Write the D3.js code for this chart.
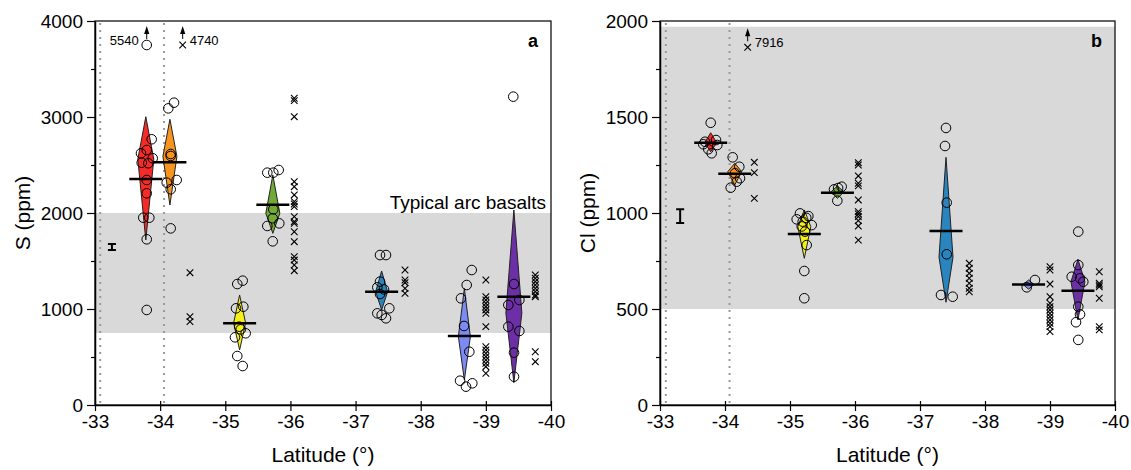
<!DOCTYPE html>
<html>
<head>
<meta charset="utf-8">
<script src="https://cdn.jsdelivr.net/npm/d3@7"></script>
<style>
  body { margin: 0; background: #fff; }
  svg { display: block; font-family: "Liberation Sans", Arial, sans-serif; }
</style>
</head>
<body>
<svg id="chart" width="1131" height="470"></svg>
<script>
// ---------------- DATA ----------------
const groupNames = ["Red", "Orange", "Yellow", "Green", "Blue", "LightBlue", "Purple"];
const groupColors = ["#f62a27", "#f7941f", "#f6f019", "#72aa37", "#2a84bd", "#7b8bf2", "#6c2fa6"];
const groupLat = [-33.78, -34.15, -35.22, -35.73, -37.40, -38.67, -39.43];

const xTicks = [-33, -34, -35, -36, -37, -38, -39, -40];
const sTicks = [0, 1000, 2000, 3000, 4000];
const clTicks = [0, 500, 1000, 1500, 2000];

// Panel a: S (ppm)
const sMean = [2354, 2528, 851, 2087, 1180, 719, 1128];
// kite shape: [top, widest, bottom] in ppm
const sShape = [[3003, 2560, 1719], [2976, 2590, 2083], [1146, 854, 573], [2396, 1997, 1788],
                [1396, 1180, 990], [1215, 711, 260], [2031, 958, 232]];
const sCircles = [
  [-33.870, 2768], [-33.706, 2622], [-33.794, 2656], [-33.886, 2570], [-33.717, 2524], [-33.818, 2518],
  [-33.794, 2344], [-33.794, 2205], [-33.741, 1951], [-33.834, 1951], [-33.794, 1726], [-33.794, 990],
  [-33.794, 3750],
  [-34.125, 3090], [-34.213, 3149], [-34.162, 2615], [-34.162, 2594], [-34.101, 2316], [-34.254, 2344],
  [-34.162, 2247], [-34.162, 1840],
  [-35.184, 1260], [-35.267, 1295], [-35.165, 1007], [-35.277, 1024], [-35.215, 816], [-35.237, 788],
  [-35.149, 705], [-35.313, 747], [-35.184, 510], [-35.267, 406],
  [-35.645, 2420], [-35.737, 2420], [-35.820, 2448], [-35.737, 2038], [-35.728, 1945], [-35.645, 1865],
  [-35.829, 1892], [-35.728, 1705],
  [-37.375, 1562], [-37.467, 1562], [-37.375, 1285], [-37.334, 1226], [-37.436, 1205], [-37.375, 1156],
  [-37.518, 1007], [-37.334, 955], [-37.401, 938], [-37.467, 903],
  [-38.783, 1406], [-38.706, 1250], [-38.618, 1111], [-38.665, 823], [-38.746, 555], [-38.604, 253],
  [-38.695, 191], [-38.792, 226],
  [-39.432, 1260], [-39.345, 1042], [-39.514, 1094], [-39.345, 816], [-39.514, 771], [-39.432, 545],
  [-39.432, 295], [-39.421, 3212]
];
const sCrosses = [
  [-34.346, 3750],
  [-34.458, 1378], [-34.458, 920], [-34.458, 868],
  [-36.059, 3195], [-36.059, 3170], [-36.059, 3003], [-36.059, 2326], [-36.059, 2274], [-36.059, 2188],
  [-36.059, 2118], [-36.059, 2094], [-36.059, 2066], [-36.059, 1962], [-36.059, 1910], [-36.059, 1892],
  [-36.059, 1805], [-36.059, 1701], [-36.059, 1545], [-36.059, 1510], [-36.059, 1458], [-36.059, 1399],
  [-37.759, 1406], [-37.759, 1302], [-37.759, 1274], [-37.759, 1215], [-37.759, 1163],
  [-39.0, 1302], [-39.0, 1128], [-39.0, 1094], [-39.0, 1059], [-39.0, 1024], [-39.0, 990], [-39.0, 955],
  [-39.0, 816], [-39.0, 607], [-39.0, 573], [-39.0, 538], [-39.0, 503], [-39.0, 469], [-39.0, 434],
  [-39.0, 399], [-39.0, 330],
  [-39.759, 1354], [-39.759, 1320], [-39.759, 1285], [-39.759, 1250], [-39.759, 1215], [-39.759, 1181],
  [-39.759, 1146], [-39.759, 1128], [-39.759, 555], [-39.759, 451]
];
// off-scale values: [lat, plotted value, true value, marker]
const sOffscale = [[-33.794, 3750, "5540", "circle"], [-34.346, 3750, "4740", "cross"]];
const sErr = [-33.26, 1646, 31];
const sBand = [750, 2000];
const sBandLabel = "Typical arc basalts";
const sVLines = [-33.08, -34.06];

// Panel b: Cl (ppm)
const clMean = [1366, 1205, 891, 1106, 906, 628, 595];
const clShape = [[1418, 1366, 1319], [1259, 1215, 1146], [1016, 929, 764], [1141, 1110, 1076],
                 [1290, 770, 535], [651, 628, 603], [759, 642, 443]];
const clCircles = [
  [-33.780, 1470], [-33.666, 1358], [-33.743, 1332], [-33.862, 1380], [-33.795, 1311], [-33.882, 1354],
  [-33.692, 1371],
  [-34.118, 1290], [-34.220, 1241], [-34.154, 1207], [-34.088, 1132], [-34.231, 1181], [-34.180, 1163],
  [-35.154, 998], [-35.282, 984], [-35.103, 967], [-35.334, 937], [-35.195, 955], [-35.231, 903],
  [-35.257, 833], [-35.220, 698], [-35.220, 556], [-35.250, 975], [-35.180, 930],
  [-35.677, 1123], [-35.795, 1137], [-35.728, 1064], [-35.740, 1130],
  [-37.400, 1443], [-37.385, 1349], [-37.411, 1054], [-37.411, 785], [-37.323, 573], [-37.503, 564],
  [-38.642, 613], [-38.769, 651],
  [-39.435, 903], [-39.435, 729], [-39.334, 668], [-39.462, 660], [-39.512, 642], [-39.435, 512],
  [-39.462, 472], [-39.400, 431], [-39.435, 339]
];
const clCrosses = [
  [-34.349, 1863],
  [-34.451, 1264], [-34.451, 1210], [-34.451, 1076],
  [-36.051, 1262], [-36.051, 1250], [-36.051, 1193], [-36.051, 1155], [-36.051, 1141], [-36.051, 1068],
  [-36.051, 1007], [-36.051, 995], [-36.051, 981], [-36.051, 960], [-36.051, 932], [-36.051, 859],
  [-37.758, 738], [-37.758, 712], [-37.758, 686], [-37.758, 660], [-37.758, 634], [-37.758, 608], [-37.758, 590],
  [-39.0, 720], [-39.0, 703], [-39.0, 630], [-39.0, 564], [-39.0, 530], [-39.0, 512], [-39.0, 495],
  [-39.0, 477], [-39.0, 460], [-39.0, 443], [-39.0, 425], [-39.0, 408], [-39.0, 382],
  [-39.758, 694], [-39.758, 634], [-39.758, 625], [-39.758, 616], [-39.758, 556], [-39.758, 408], [-39.758, 391]
];
const clOffscale = [[-34.349, 1863, "7916", "cross"]];
const clErr = [-33.31, 984, 36];
const clBand = [500, 1970];
const clVLines = [-33.09, -34.07];

// ---------------- STYLE ----------------
const sKiteHalf = [8, 7, 6, 7, 6, 6, 8];
const clKiteHalf = [6, 7, 6.5, 6.5, 7, 5.5, 7];

const svg = d3.select("#chart");

function panel(opts) {
  const { left, right, top, bottom, yMax, yTicks, yMinorStep, yLabel, letter,
          mean, shape, kiteHalf, circles, crosses, offscale, err, band, bandLabel, vlines } = opts;
  const x = d3.scaleLinear().domain([-33, -40]).range([left, right]);
  const y = d3.scaleLinear().domain([0, yMax]).range([bottom, top]);
  const g = svg.append("g");

  // band
  g.append("rect").attr("x", left).attr("width", right - left)
    .attr("y", y(band[1])).attr("height", y(band[0]) - y(band[1]))
    .attr("fill", "#d9d9d9");

  // dotted vertical lines
  g.selectAll(".vl").data(vlines).join("line")
    .attr("x1", d => x(d)).attr("x2", d => x(d))
    .attr("y1", top + 2).attr("y2", bottom)
    .attr("stroke", "#999").attr("stroke-width", 2).attr("stroke-dasharray", "2,5");

  if (bandLabel) {
    g.append("text").attr("x", right - 5).attr("y", y(band[1]) - 4)
      .attr("text-anchor", "end").attr("font-size", 19).text(bandLabel);
  }

  // error bar
  const ex = x(err[0]);
  g.append("path")
    .attr("d", `M${ex},${y(err[1] + err[2])}V${y(err[1] - err[2])}` +
               `M${ex - 4},${y(err[1] + err[2])}H${ex + 4}M${ex - 4},${y(err[1] - err[2])}H${ex + 4}`)
    .attr("stroke", "#000").attr("stroke-width", 2).attr("fill", "none");

  // kites
  g.selectAll(".kite").data(shape).join("path")
    .attr("d", (d, i) => {
      const cx = x(groupLat[i]), h = kiteHalf[i];
      return `M${cx},${y(d[0])}L${cx + h},${y(d[1])}L${cx},${y(d[2])}L${cx - h},${y(d[1])}Z`;
    })
    .attr("fill", (d, i) => groupColors[i])
    .attr("stroke", "#222").attr("stroke-width", 1).attr("stroke-linejoin", "round");

  // circles
  g.selectAll(".pt").data(circles).join("circle")
    .attr("cx", d => x(d[0])).attr("cy", d => y(d[1])).attr("r", 4.8)
    .attr("fill", "none").attr("stroke", "#000").attr("stroke-width", 1);

  // mean lines
  g.selectAll(".mean").data(mean).join("line")
    .attr("x1", (d, i) => x(groupLat[i]) - 16.5).attr("x2", (d, i) => x(groupLat[i]) + 16.5)
    .attr("y1", d => y(d)).attr("y2", d => y(d))
    .attr("stroke", "#000").attr("stroke-width", 2.5);

  // crosses
  g.selectAll(".cr").data(crosses).join("path")
    .attr("transform", d => `translate(${x(d[0])},${y(d[1])})`)
    .attr("d", "M-3.3,-3.3L3.3,3.3M-3.3,3.3L3.3,-3.3")
    .attr("stroke", "#000").attr("stroke-width", 1.1).attr("fill", "none");

  // off-scale arrows and labels
  offscale.forEach(d => {
    const px = x(d[0]), py = y(d[1]);
    g.append("line").attr("x1", px).attr("x2", px).attr("y1", py - 12).attr("y2", py - 6)
      .attr("stroke", "#000").attr("stroke-width", 1);
    g.append("path").attr("d", `M${px},${py - 19}L${px + 2.6},${py - 11}L${px - 2.6},${py - 11}Z`)
      .attr("fill", "#000");
    const isLeft = d[3] === "circle";
    g.append("text").attr("x", isLeft ? px - 8 : px + 7).attr("y", py)
      .attr("text-anchor", isLeft ? "end" : "start").attr("font-size", 13).text(d[2]);
  });

  // frame
  g.append("rect").attr("x", left).attr("y", top).attr("width", right - left).attr("height", bottom - top)
    .attr("fill", "none").attr("stroke", "#000").attr("stroke-width", 1.2);

  // x axis
  const xa = g.append("g").attr("transform", `translate(0,${bottom})`)
    .call(d3.axisBottom(x).tickValues(xTicks).tickFormat(d3.format("d")).tickSizeOuter(0).tickSizeInner(6));
  xa.select(".domain").attr("stroke-width", 1.5);
  xa.selectAll(".tick line").attr("y1", -4).attr("stroke-width", 1.2);
  xa.selectAll(".tick text").attr("font-size", 19).attr("font-family", "Liberation Sans, Arial, sans-serif")
    .attr("dy", "0.71em").attr("y", 10).text(d => String(d).replace("\u2212", "-"));

  // y axis
  const minor = d3.range(0, yMax + 1, yMinorStep).filter(v => !yTicks.includes(v));
  g.append("g").attr("transform", `translate(${left},0)`)
    .call(d3.axisLeft(y).tickValues(minor).tickSize(4).tickFormat(""))
    .call(a => a.select(".domain").remove())
    .selectAll(".tick line").attr("stroke-width", 1.2);
  const ya = g.append("g").attr("transform", `translate(${left},0)`)
    .call(d3.axisLeft(y).tickValues(yTicks).tickSize(8).tickSizeOuter(0).tickFormat(d3.format("d")));
  ya.select(".domain").attr("stroke-width", 1.5);
  ya.selectAll(".tick line").attr("stroke-width", 1.2);
  ya.selectAll(".tick text").attr("font-size", 19).attr("x", -12)
    .attr("font-family", "Liberation Sans, Arial, sans-serif");

  // axis titles
  g.append("text").attr("x", (left + right) / 2).attr("y", 462)
    .attr("text-anchor", "middle").attr("font-size", 21).text("Latitude (°)");
  g.append("text").attr("transform", `translate(${left - 72},${(top + bottom) / 2}) rotate(-90)`)
    .attr("text-anchor", "middle").attr("font-size", 21).attr("dy", "0.35em").text(yLabel);

  // panel letter
  g.append("text").attr("x", right - 13).attr("y", top + 26).attr("text-anchor", "end")
    .attr("font-size", 18).attr("font-weight", "bold").text(letter);
}

panel({
  left: 95, right: 551, top: 21, bottom: 405, yMax: 4000, yTicks: sTicks, yMinorStep: 500,
  yLabel: "S (ppm)", letter: "a", mean: sMean, shape: sShape, kiteHalf: sKiteHalf,
  circles: sCircles, crosses: sCrosses, offscale: sOffscale, err: sErr, band: sBand,
  bandLabel: sBandLabel, vlines: sVLines
});
panel({
  left: 660, right: 1115, top: 21, bottom: 405, yMax: 2000, yTicks: clTicks, yMinorStep: 250,
  yLabel: "Cl (ppm)", letter: "b", mean: clMean, shape: clShape, kiteHalf: clKiteHalf,
  circles: clCircles, crosses: clCrosses, offscale: clOffscale, err: clErr, band: clBand,
  bandLabel: null, vlines: clVLines
});
</script>
</body>
</html>
